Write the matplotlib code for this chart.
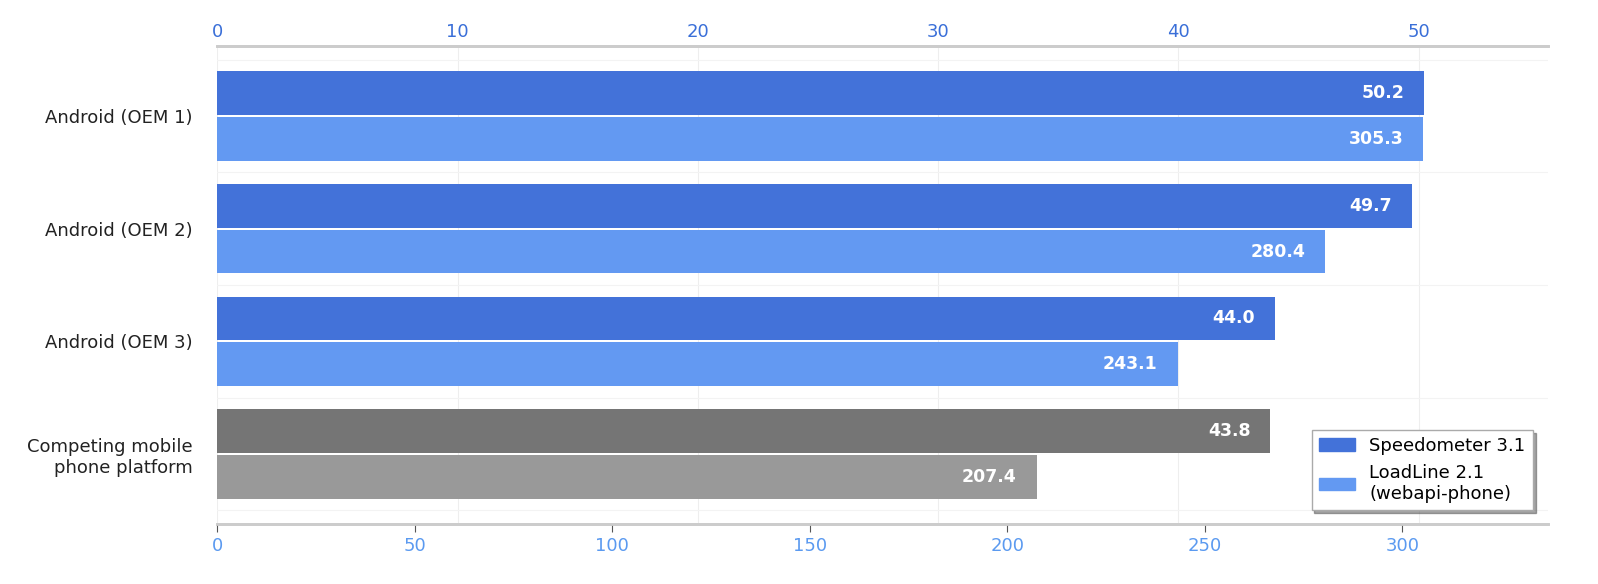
import matplotlib
matplotlib.use("Agg")
import matplotlib.pyplot as plt
from matplotlib.patches import Patch

categories = ["Android (OEM 1)", "Android (OEM 2)", "Android (OEM 3)", "Competing mobile\nphone platform"]
speedometer = [50.2, 49.7, 44.0, 43.8]
loadline = [305.3, 280.4, 243.1, 207.4]
speed_colors = ["#4372D9", "#4372D9", "#4372D9", "#757575"]
load_colors = ["#6399F2", "#6399F2", "#6399F2", "#999999"]

fig = plt.figure(figsize=(15.98, 5.84), dpi=100)
ax = fig.add_axes([0.136, 0.103, 0.833, 0.818])
ax2 = ax.twiny()
ax.set_zorder(ax2.get_zorder() + 1)
ax.patch.set_visible(False)

h = 0.386
y = list(range(len(categories)))
ys = [i - h/2 - 0.01 for i in y]
yl = [i + h/2 + 0.01 for i in y]

ax.barh(yl, loadline, height=h, color=load_colors, zorder=3)
ax2.barh(ys, speedometer, height=h, color=speed_colors, zorder=3)

ax.set_xlim(0, 337)
ax2.set_xlim(0, 55.4)
ax.set_ylim(3.62, -0.62)
ax.set_yticks(y)
ax.set_yticklabels(categories, fontsize=13, color="#222222")
ax.tick_params(axis="y", length=0, pad=18)

for yy, v in zip(yl, loadline):
    ax.text(v - 5, yy, f"{v:.1f}", ha="right", va="center", color="white", fontweight="bold", fontsize=12.5, zorder=5)
for yy, v in zip(ys, speedometer):
    ax2.text(v - 0.8, yy, f"{v:.1f}", ha="right", va="center", color="white", fontweight="bold", fontsize=12.5, zorder=5)

ax.set_xticks([0, 50, 100, 150, 200, 250, 300])
ax2.set_xticks([0, 10, 20, 30, 40, 50])
ax.tick_params(axis="x", labelcolor="#5B9AF0", labelsize=13, length=6, color="#555555")
ax2.tick_params(axis="x", labelcolor="#3A6FD8", labelsize=13, length=0)

for a in (ax, ax2):
    for s in ("left", "right"):
        a.spines[s].set_visible(False)
    for s in ("top", "bottom"):
        a.spines[s].set_color("#cccccc")
        a.spines[s].set_linewidth(2)

ax2.grid(axis="x", color="#eeeeee", zorder=0)
ax2.set_axisbelow(True)
ax.set_yticks([i + 0.5 for i in range(-1, 4)], minor=True)
ax.grid(axis="y", which="minor", color="#f3f3f3", zorder=0)
ax.tick_params(axis="y", which="minor", length=0)

handles = [Patch(color="#4372D9", label="Speedometer 3.1"),
           Patch(color="#6399F2", label="LoadLine 2.1\n(webapi-phone)")]
leg = ax.legend(handles=handles, loc="lower right", fontsize=13, shadow=True,
                fancybox=False, edgecolor="#aaaaaa", bbox_to_anchor=(0.995, 0.01))
leg.set_zorder(10)

fig.savefig("out.png", dpi=100)
